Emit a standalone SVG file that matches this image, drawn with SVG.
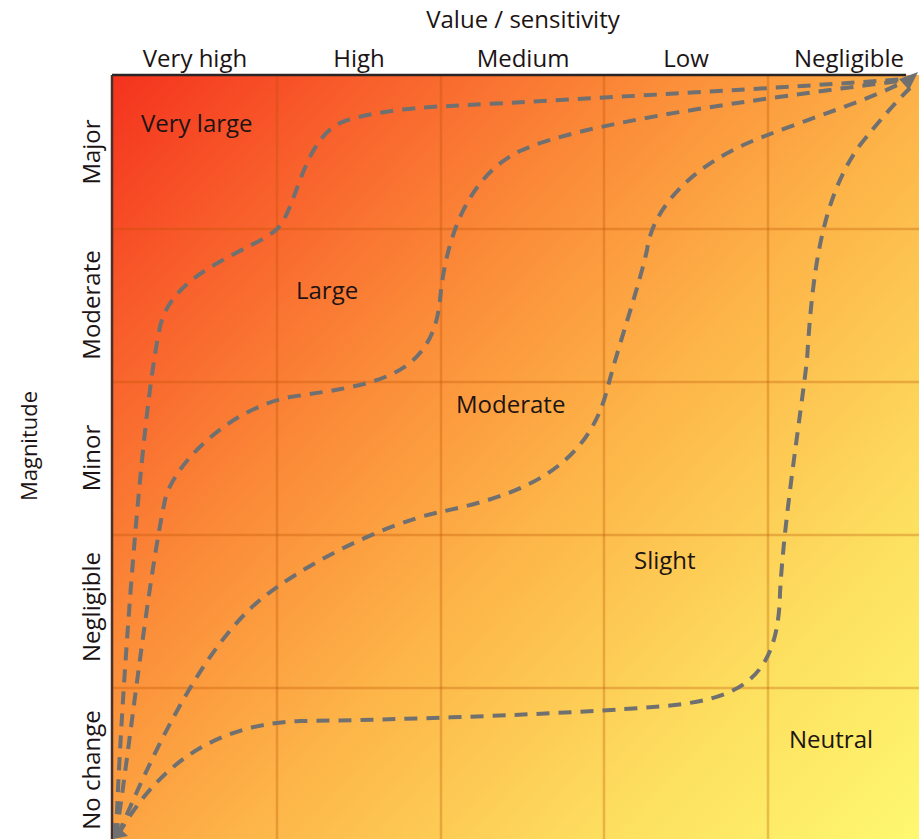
<svg xmlns="http://www.w3.org/2000/svg" width="919" height="839" viewBox="0 0 919 839">
  <defs>
    <linearGradient id="heat" gradientUnits="userSpaceOnUse" x1="112" y1="75" x2="919" y2="839">
      <stop offset="0" stop-color="#f4321e"/>
      <stop offset="0.15" stop-color="#f85a2a"/>
      <stop offset="0.35" stop-color="#fb8a38"/>
      <stop offset="0.55" stop-color="#fdb448"/>
      <stop offset="0.8" stop-color="#fde060"/>
      <stop offset="1" stop-color="#fef870"/>
    </linearGradient>
    <style>
      text { font-family: "Open Sans", "Liberation Sans", sans-serif; fill: #1c1414; }
      .hdr { font-size: 24px; text-anchor: middle; }
      .cell { font-size: 24px; }
      .grid line { stroke: #b85000; stroke-opacity: 0.3; stroke-width: 2.5; }
      .curve { fill: none; stroke: #707070; stroke-width: 4; stroke-dasharray: 13 9; }
      .tip { fill: #707070; }
    </style>
  </defs>

  <rect width="919" height="839" fill="#ffffff"/>

  <!-- coloured field -->
  <rect id="field" x="112" y="75" width="807" height="764" fill="url(#heat)"/>

  <!-- grid -->
  <g class="grid">
    <line x1="277" y1="75" x2="277" y2="839"/>
    <line x1="441" y1="75" x2="441" y2="839"/>
    <line x1="604" y1="75" x2="604" y2="839"/>
    <line x1="768" y1="75" x2="768" y2="839"/>
    <line x1="112" y1="229" x2="919" y2="229"/>
    <line x1="112" y1="382" x2="919" y2="382"/>
    <line x1="112" y1="535" x2="919" y2="535"/>
    <line x1="112" y1="688" x2="919" y2="688"/>
  </g>

  <!-- axes -->
  <line x1="112" y1="75" x2="906" y2="75" stroke="#2a2424" stroke-width="2.5"/>
  <line x1="112" y1="75" x2="112" y2="839" stroke="#4a3028" stroke-width="2.5"/>

  <!-- boundary curves -->
  <g id="connectors">
    <path id="curve-very-large" class="curve" d="M116,836 C120,720 140,420 160,327 C172,270 255,250 277,229 C297,210 303,135 345,121 C375,111 420,107 450,106 C600,98 780,88 907,79"/>
    <path id="curve-large" class="curve" d="M116,836 C128,760 148,580 165,500 C172,468 225,410 290,397 C370,385 432,380 440,300 C444,255 460,180 520,151 C580,123 750,100 907,80"/>
    <path id="curve-moderate" class="curve" d="M118,835 C150,760 200,650 260,600 C300,567 380,525 440,512 C510,497 585,475 607,390 C620,340 638,290 647,250 C652,210 690,165 760,138 C810,118 870,100 907,80"/>
    <path id="curve-slight" class="curve" d="M118,835 C150,780 200,725 300,721 C400,720 560,714 640,708 C730,702 778,690 780,593 C784,520 800,420 807,360 C812,280 820,200 860,145 C880,120 895,103 910,88"/>
    <polygon class="tip" points="918,72 899,79 909,90"/>
    <polygon class="tip" points="113,839 113,822 128,836"/>
  </g>

  <!-- axis titles -->
  <g id="title-value">
    <text x="523" y="28" class="hdr">Value / sensitivity</text>
  </g>
  <g id="title-magnitude">
    <text x="0" y="0" font-size="22" text-anchor="middle" transform="translate(37,446) rotate(-90)">Magnitude</text>
  </g>

  <!-- column headings -->
  <g id="col-very-high"><text x="195" y="67" class="hdr">Very high</text></g>
  <g id="col-high"><text x="359" y="67" class="hdr">High</text></g>
  <g id="col-medium"><text x="523" y="67" class="hdr">Medium</text></g>
  <g id="col-low"><text x="686" y="67" class="hdr">Low</text></g>
  <g id="col-negligible"><text x="849" y="67" class="hdr">Negligible</text></g>

  <!-- row headings -->
  <g id="row-major"><text class="hdr" transform="translate(100,152) rotate(-90)">Major</text></g>
  <g id="row-moderate"><text class="hdr" transform="translate(100,305) rotate(-90)">Moderate</text></g>
  <g id="row-minor"><text class="hdr" transform="translate(100,458) rotate(-90)">Minor</text></g>
  <g id="row-negligible"><text class="hdr" transform="translate(100,607) rotate(-90)">Negligible</text></g>
  <g id="row-no-change"><text class="hdr" transform="translate(100,770) rotate(-90)">No change</text></g>

  <!-- significance bands -->
  <g id="band-very-large"><text x="141" y="132" class="cell">Very large</text></g>
  <g id="band-large"><text x="296" y="299" class="cell">Large</text></g>
  <g id="band-moderate"><text x="456" y="413" class="cell">Moderate</text></g>
  <g id="band-slight"><text x="634" y="569" class="cell">Slight</text></g>
  <g id="band-neutral"><text x="789" y="748" class="cell">Neutral</text></g>
</svg>
